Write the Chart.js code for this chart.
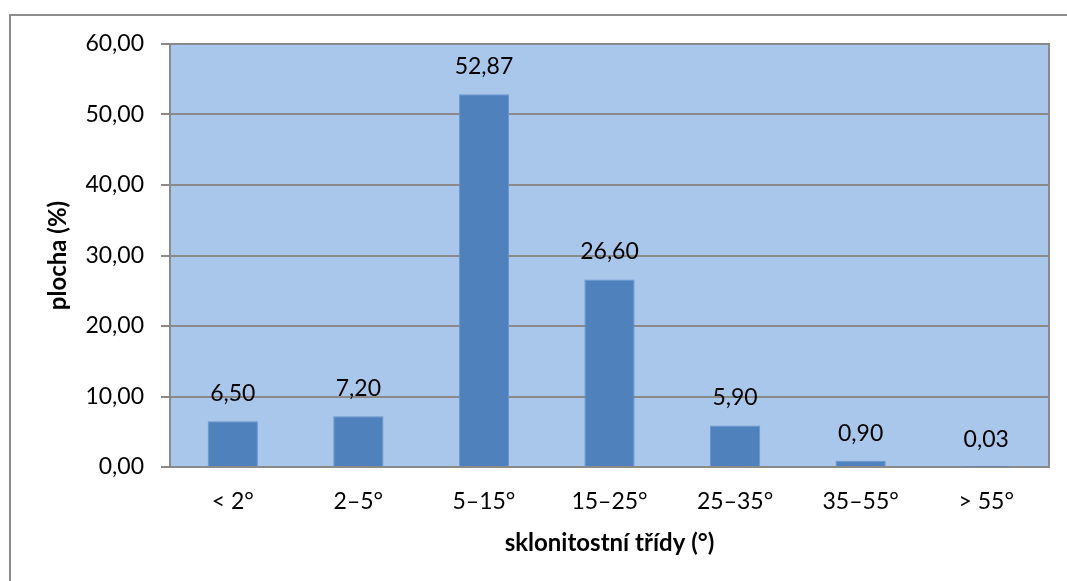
<!DOCTYPE html>
<html>
<head>
<meta charset="utf-8">
<script src="https://cdn.jsdelivr.net/npm/chart.js@4"></script>
<style>
  html, body { margin: 0; padding: 0; background: #fff; }
  #wrap { position: relative; width: 1067px; height: 581px; overflow: hidden; }
  #frame { position: absolute; left: 9px; top: 14px; width: 1200px; height: 700px;
           border-top: 2px solid #8c8c8c; border-left: 2px solid #8c8c8c; }
  #chart { position: absolute; left: 0; top: 0; }
</style>
</head>
<body>
<div id="wrap">
  <div id="frame"></div>
  <canvas id="chart" width="1067" height="581"></canvas>
</div>
<script>
// sklonitostní třídy a podíl plochy
const categories = ['< 2°', '2–5°', '5–15°', '15–25°', '25–35°', '35–55°', '> 55°'];
const areaPct = [6.5, 7.2, 52.87, 26.6, 5.9, 0.9, 0.03];
const yTicks = [0, 10, 20, 30, 40, 50, 60];

const FONT = 'Lato, "Open Sans", sans-serif';
const fmt = (v) => v.toFixed(2).replace('.', ',');

// pozadí a rámeček oblasti grafu
const plotBg = {
  id: 'plotBg',
  beforeDraw(chart) {
    const { ctx, chartArea: a } = chart;
    ctx.save();
    ctx.fillStyle = '#a9c6eb';
    ctx.fillRect(a.left, a.top, a.right - a.left, a.bottom - a.top);
    ctx.restore();
  },
  afterDraw(chart) {
    const { ctx, chartArea: a } = chart;
    ctx.save();
    ctx.strokeStyle = '#8a8a8a';
    ctx.lineWidth = 2;
    ctx.beginPath();
    ctx.moveTo(a.left, a.top);
    ctx.lineTo(a.right, a.top);
    ctx.lineTo(a.right, a.bottom);
    ctx.stroke();
    ctx.restore();
  },
};

// popisky hodnot nad sloupci
const valueLabels = {
  id: 'valueLabels',
  afterDatasetsDraw(chart) {
    const { ctx } = chart;
    const meta = chart.getDatasetMeta(0);
    ctx.save();
    ctx.fillStyle = '#000';
    ctx.font = '23px ' + FONT;
    ctx.textAlign = 'center';
    ctx.textBaseline = 'alphabetic';
    meta.data.forEach((bar, i) => {
      ctx.fillText(fmt(areaPct[i]), bar.x, bar.y - 20);
    });
    ctx.restore();
  },
};

new Chart(document.getElementById('chart'), {
  type: 'bar',
  data: {
    labels: categories,
    datasets: [
      {
        data: areaPct,
        backgroundColor: '#4f81bd',
        borderColor: '#6a95c9',
        borderWidth: 1,
        barPercentage: 0.4,
        categoryPercentage: 1,
      },
    ],
  },
  options: {
    responsive: false,
    animation: false,
    layout: { padding: { top: 44, right: 18, left: 0, bottom: 0 } },
    plugins: { legend: { display: false }, tooltip: { enabled: false } },
    scales: {
      x: {
        grid: { display: false, drawTicks: false },
        border: { color: '#8a8a8a', width: 2 },
        ticks: { color: '#000', font: { family: FONT, size: 23 }, padding: 21 },
        title: {
          display: true,
          text: 'sklonitostní třídy (°)',
          color: '#000',
          font: { family: FONT, size: 24, weight: 'bold' },
          padding: { bottom: 23 },
        },
        afterFit(scale) { scale.height = 114; },
      },
      y: {
        min: 0,
        max: 60,
        afterBuildTicks(scale) { scale.ticks = yTicks.map((v) => ({ value: v })); },
        grid: { color: '#8a8a8a', lineWidth: 2, tickLength: 9, drawTicks: true },
        border: { color: '#8a8a8a', width: 2 },
        ticks: {
          color: '#000',
          font: { family: FONT, size: 23 },
          padding: 17,
          callback: (v) => fmt(v),
        },
        title: {
          display: true,
          text: 'plocha (%)',
          color: '#000',
          font: { family: FONT, size: 24, weight: 'bold' },
          padding: { top: 44 },
        },
        afterFit(scale) { scale.width = 170; },
      },
    },
  },
  plugins: [plotBg, valueLabels],
});
</script>
</body>
</html>
